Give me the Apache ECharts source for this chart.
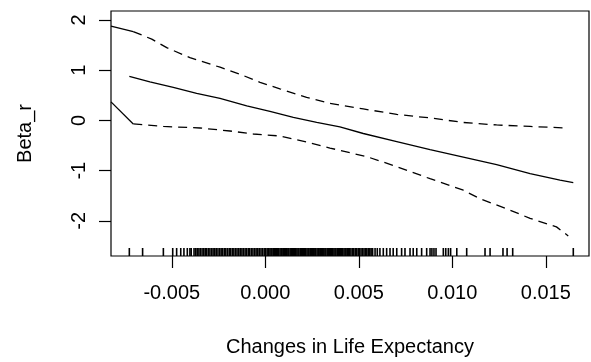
<!DOCTYPE html>
<html>
<head>
<meta charset="utf-8">
<script src="https://cdn.jsdelivr.net/npm/echarts@6/dist/echarts.min.js"></script>
<style>
  html, body { margin: 0; padding: 0; background: #fff; }
  #chart { width: 591px; height: 362px; }
</style>
</head>
<body>
<div id="chart"></div>
<script>
// axis ranges and ticks
var xMin = -0.00825, xMax = 0.01731;
var yMin = -2.70, yMax = 2.18;
var xTicks = [-0.005, 0.000, 0.005, 0.010, 0.015];
var xTickLabels = ['-0.005', '0.000', '0.005', '0.010', '0.015'];
var yTicks = [-2, -1, 0, 1, 2];

// smooth fit
var fitX = [-0.00727, -0.00617, -0.00492, -0.00367, -0.00242, -0.00099, 0.00025, 0.00150, 0.00275,
            0.00399, 0.00524, 0.00703, 0.00881, 0.01059, 0.01237, 0.01416, 0.01576, 0.01647];
var fitY = [0.88, 0.77, 0.66, 0.54, 0.44, 0.29, 0.18, 0.06, -0.04,
            -0.13, -0.26, -0.42, -0.58, -0.73, -0.88, -1.06, -1.19, -1.24];

// upper band (first piece drawn solid, like the original)
var upLeadX = [-0.00825, -0.00706];
var upLeadY = [1.88, 1.77];
var upX = [-0.00706, -0.00607, -0.00527, -0.00403, -0.00242, -0.00135, -0.00028, 0.00078, 0.00221,
           0.00346, 0.00524, 0.00703, 0.00881, 0.01059, 0.01237, 0.01416, 0.01612];
var upY = [1.77, 1.62, 1.45, 1.25, 1.06, 0.92, 0.76, 0.63, 0.46,
           0.34, 0.23, 0.12, 0.05, -0.04, -0.09, -0.12, -0.15];

// lower band
var loLeadX = [-0.00825, -0.00706];
var loLeadY = [0.37, -0.07];
var loX = [-0.00706, -0.00545, -0.00349, -0.00189, -0.00064, 0.00078, 0.00221, 0.00346, 0.00542,
           0.00703, 0.00881, 0.01059, 0.01148, 0.01291, 0.01416, 0.01557, 0.01620];
var loY = [-0.07, -0.12, -0.15, -0.21, -0.27, -0.31, -0.43, -0.55, -0.72,
           -0.92, -1.16, -1.39, -1.56, -1.76, -1.95, -2.12, -2.30];

// rug of observed x values
var rugX = [-0.00727, -0.00656, -0.00545, -0.00495, -0.00474, -0.00452, -0.00435, -0.00417,
  -0.00403, -0.00396, -0.00381, -0.00372, -0.00364, -0.00355, -0.00347, -0.00338, -0.00329, -0.00321,
  -0.00313, -0.00304, -0.00296, -0.00287, -0.00279, -0.00270, -0.00262, -0.00253, -0.00244, -0.00236,
  -0.00228, -0.00219, -0.00211, -0.00202, -0.00193, -0.00185, -0.00176, -0.00168, -0.00159, -0.00151,
  -0.00142, -0.00134, -0.00125, -0.00117, -0.00108, -0.00100, -0.00091, -0.00083, -0.00074, -0.00066,
  -0.00057, -0.00049, -0.00040, -0.00032, -0.00023, -0.00015, -0.00006, 0.00002, 0.00010, 0.00018, 0.00025,
  0.00031, 0.00036, 0.00043, 0.00049, 0.00054, 0.00061, 0.00067, 0.00072, 0.00079, 0.00085, 0.00090,
  0.00097, 0.00103, 0.00108, 0.00115, 0.00121, 0.00126, 0.00133, 0.00139, 0.00144, 0.00151, 0.00157,
  0.00162, 0.00169, 0.00175, 0.00180, 0.00187, 0.00193, 0.00198, 0.00205, 0.00211, 0.00216, 0.00223,
  0.00229, 0.00234, 0.00241, 0.00247, 0.00252, 0.00259, 0.00265, 0.00270, 0.00277, 0.00283, 0.00288,
  0.00295, 0.00301, 0.00306, 0.00313, 0.00319, 0.00324, 0.00331, 0.00337, 0.00342, 0.00349, 0.00355,
  0.00360, 0.00367, 0.00373, 0.00378, 0.00385, 0.00391, 0.00396, 0.00403, 0.00409, 0.00414, 0.00421,
  0.00427, 0.00432, 0.00439, 0.00445, 0.00451,
  0.00458, 0.00466, 0.00473, 0.00481, 0.00489, 0.00497, 0.00504, 0.00512, 0.00520, 0.00528, 0.00536,
  0.00543, 0.00551, 0.00559, 0.00566,
  0.00574, 0.00587, 0.00599, 0.00613, 0.00631, 0.00649, 0.00667, 0.00684, 0.00703, 0.00729, 0.00747,
  0.00774, 0.00791, 0.00810, 0.00836, 0.00863, 0.00881, 0.00891, 0.00902, 0.00913, 0.00952, 0.00965,
  0.00979, 0.00991, 0.01024, 0.01077, 0.01175, 0.01202, 0.01271, 0.01293, 0.01323, 0.01647];

function pairs(xs, ys) {
    var out = [];
    for (var i = 0; i < xs.length; i++) out.push([xs[i], ys[i]]);
    return out;
}

var font = 'Liberation Sans, Arial, Helvetica, sans-serif';
var chart = echarts.init(document.getElementById('chart'), null, { renderer: 'canvas' });

function lineSeries(xs, ys, dashed) {
    return {
        type: 'line',
        data: pairs(xs, ys),
        showSymbol: false,
        symbol: 'none',
        silent: true,
        lineStyle: { color: '#000', width: 1.3, type: dashed ? [9, 6] : 'solid' }
    };
}

var option = {
    animation: false,
    backgroundColor: '#fff',
    grid: {
        left: 111, right: 2, top: 11, bottom: 105,
        show: true, borderColor: '#000', borderWidth: 1.2, backgroundColor: 'transparent'
    },
    xAxis: {
        type: 'value',
        min: xMin, max: xMax,
        name: 'Changes in Life Expectancy',
        nameLocation: 'middle',
        nameGap: 81,
        nameTextStyle: { color: '#000', fontFamily: font, fontSize: 20 },
        axisLine: { show: false, onZero: false },
        splitLine: { show: false },
        axisTick: { show: true, length: 12, customValues: xTicks, lineStyle: { color: '#000', width: 1.2 } },
        axisLabel: {
            customValues: xTicks, margin: 27,
            color: '#000', fontFamily: font, fontSize: 20,
            formatter: function (v) {
                var i = xTicks.indexOf(v);
                return i >= 0 ? xTickLabels[i] : v.toFixed(3);
            }
        }
    },
    yAxis: {
        type: 'value',
        min: yMin, max: yMax,
        name: 'Beta_r',
        nameLocation: 'middle',
        nameGap: 76,
        nameTextStyle: { color: '#000', fontFamily: font, fontSize: 20 },
        axisLine: { show: false, onZero: false },
        splitLine: { show: false },
        axisTick: { show: true, length: 12, customValues: yTicks, lineStyle: { color: '#000', width: 1.2 } },
        axisLabel: {
            customValues: yTicks, margin: 22, rotate: 90,
            color: '#000', fontFamily: font, fontSize: 20
        }
    },
    series: [
        lineSeries(fitX, fitY, false),
        lineSeries(upLeadX, upLeadY, false),
        lineSeries(upX, upY, true),
        lineSeries(loLeadX, loLeadY, false),
        lineSeries(loX, loY, true),
        {
            type: 'custom',
            silent: true,
            data: rugX.map(function (x) { return [x, yMin]; }),
            encode: { x: 0, y: 1 },
            renderItem: function (params, api) {
                var p = api.coord([api.value(0), api.value(1)]);
                return {
                    type: 'line',
                    shape: { x1: p[0], y1: p[1], x2: p[0], y2: p[1] - 8 },
                    style: { stroke: '#000', lineWidth: 1.6 }
                };
            }
        }
    ]
};

chart.setOption(option);
</script>
</body>
</html>
